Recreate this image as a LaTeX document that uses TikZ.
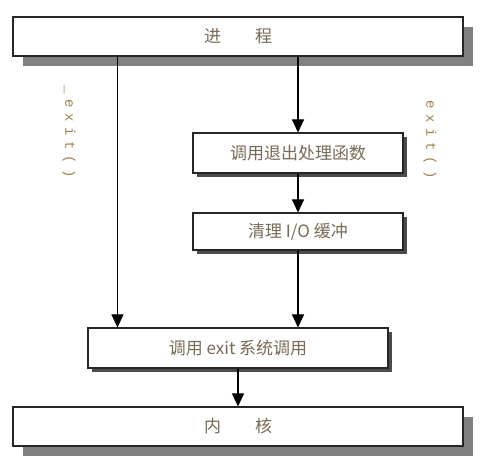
\documentclass[tikz,border=0pt]{standalone}
\usepackage{fontspec}
\newfontfamily\cjk{Noto Sans CJK SC}
\newfontfamily\lblfont[LetterSpace=40]{Liberation Mono}
\usetikzlibrary{arrows.meta,positioning,shadows}
\definecolor{inkbrown}{RGB}{120,106,86}
\definecolor{lblbrown}{RGB}{160,128,80}
\definecolor{shade}{RGB}{128,128,128}

\begin{document}
\begin{tikzpicture}[
  x=1pt, y=-1pt,
  bigbox/.style={draw=black!85, line width=1.1pt, fill=white, minimum width=450pt, minimum height=39pt,
    inner sep=0pt, font=\cjk\fontsize{17}{20}\selectfont, text=inkbrown,
    drop shadow={shadow xshift=10pt, shadow yshift=-10pt, fill=shade, opacity=1}},
  smallbox/.style={draw=black!85, line width=1.1pt, fill=white, minimum height=39pt,
    inner sep=0pt, font=\cjk\fontsize{17}{20}\selectfont, text=inkbrown,
    drop shadow={shadow xshift=4pt, shadow yshift=-4pt, fill=black!70, opacity=1}},
  arrow/.style={-{Triangle[length=13pt,width=12pt]}, line width=1.1pt},
  lbl/.style={rotate=-90, font=\lblfont\fontsize{14}{16}\selectfont, text=lblbrown},
]
  \useasboundingbox (0,0) rectangle (488,468);

  \node[bigbox] (proc) at (238,36.5) {进　　程};
  \node[smallbox, minimum width=210pt, minimum height=40pt] (exith) at (298,153) {调用退出处理函数};
  \node[smallbox, minimum width=210pt, minimum height=37pt] (flush) at (298,231.5) {清理 I/O 缓冲};
  \node[smallbox, minimum width=300pt, minimum height=40pt] (syscall) at (238,348) {调用 exit 系统调用};
  \node[bigbox] (kernel) at (238,426.5) {内　　核};

  % the two ways out of a process
  \coordinate (lft) at ([xshift=30pt]syscall.north west);
  \draw[arrow] (proc.south -| lft) -- (lft);
  \draw[arrow] (proc.south -| exith.north) -- (exith.north);
  \draw[arrow] (exith.south) -- (flush.north);
  \draw[arrow] (flush.south) -- (flush.south |- syscall.north);
  \draw[arrow] (syscall.south) -- (kernel.north);

  \node[lbl] (uexit) at (69,132) {\_exit()};
  \node[lbl] (cexit) at (430,140) {exit()};
\end{tikzpicture}
\end{document}
